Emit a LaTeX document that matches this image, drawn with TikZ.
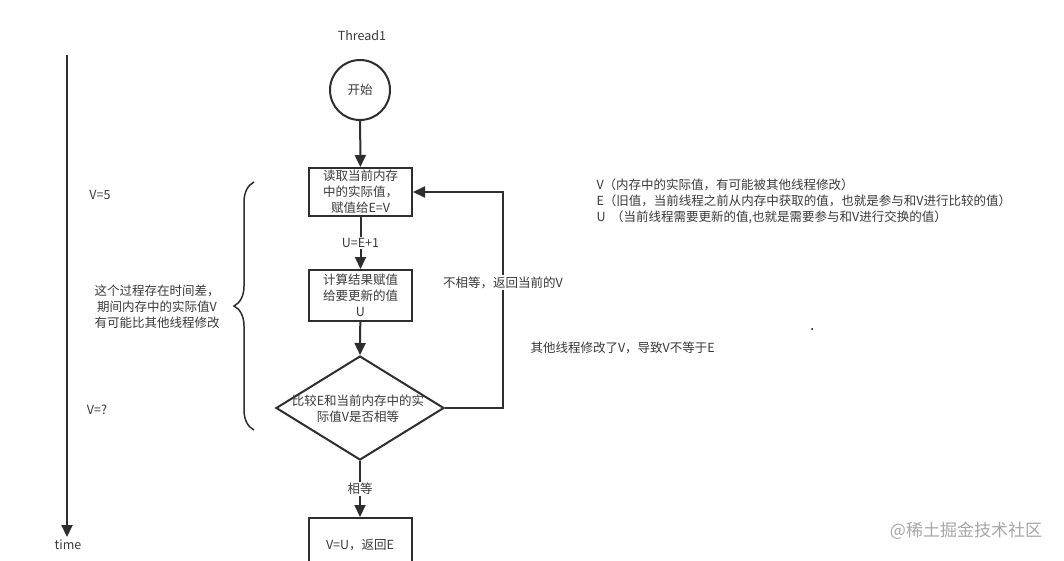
\documentclass[tikz,border=0pt]{standalone}
\usepackage{fontspec}
\setmainfont{Noto Sans CJK SC}
\usetikzlibrary{arrows.meta,shapes.geometric,decorations.pathreplacing}
\definecolor{ink}{HTML}{2E2E2E}
\definecolor{txt}{HTML}{3A3A3A}
\begin{document}
\begin{tikzpicture}[x=1pt,y=-1pt,
  every node/.style={text=txt,font=\fontsize{12.5}{16}\selectfont},
  ln/.style={draw=ink,line width=2pt},
  arr/.style={ln,-{Triangle[length=12pt,width=11pt]}},
  procbox/.style={draw=ink,line width=2pt,minimum width=103pt,minimum height=48pt,align=center,inner sep=1pt},
  lbl/.style={fill=white,inner sep=1.5pt}]
\useasboundingbox[fill=white] (0,0) rectangle (1064,560);
% time axis
\coordinate (t0) at (67,55);
\coordinate (t1) at (67,537);
\draw[arr] (t0) -- (t1);
\node (time) at (68,545) {time};
\node (thr) at (362,36) {Thread1};
% flowchart
\node[draw=ink,line width=2pt,circle,minimum size=60pt,inner sep=0pt] (start) at (360,90) {开始};
\node[procbox] (b1) at (360.5,192) {读取当前内存\\中的实际值，\\赋值给E=V};
\node[procbox,minimum height=51pt] (b2) at (360.5,295.5) {计算结果赋值\\给要更新的值\\U};
\node[draw=ink,line width=2pt,diamond,aspect=1.62,minimum width=168pt,minimum height=104pt,inner sep=0pt] (dia) at (360,408) {};
\node[align=center] (diat) at (358,409) {比较E和当前内存中的实\\际值V是否相等};
\node[procbox,minimum height=60pt,anchor=north] (b3) at (360,517) {};
\node (b3t) at (360,545) {V=U，返回E};
\draw[arr] (start) -- (b1);
\draw[arr] (b1) -- node[lbl] {U=E+1} (b2);
\draw[arr] (b2) -- (dia.north);
\draw[arr] (dia.south) -- node[lbl,pos=0.5] {相等} (b3.north);
\coordinate (c1) at (503,408);
\coordinate (c2) at (503,192);
\draw[arr] (dia.east) -- (c1) -- node[lbl,pos=0.58] {不相等，返回当前的V} (c2) -- (b1.east);
% brace and notes
\coordinate (br0) at (254,430);
\coordinate (br1) at (254,182);
\draw[ink,line width=1.5pt,decorate,decoration={brace,amplitude=20pt}] (br0) -- (br1);
\node (v5) at (100,195) {V=5};
\node (vq) at (97,410) {V=?};
\node[align=center] (gap) at (157,307) {这个过程存在时间差，\\期间内存中的实际值V\\有可能比其他线程修改};
\node[align=left,anchor=north west,font=\fontsize{12.5}{16}\selectfont] (legend) at (593,175) {V（内存中的实际值，有可能被其他线程修改）\\E（旧值，当前线程之前从内存中获取的值，也就是参与和V进行比较的值）\\U\ \ （当前线程需要更新的值,也就是需要参与和V进行交换的值）};
\node[anchor=west] (other) at (527,348) {其他线程修改了V，导致V不等于E};
\node[fill=black,circle,inner sep=0pt,minimum size=2pt] (dot) at (812,329) {};
\node[text=black!35,font=\fontsize{17}{20}\selectfont] (wm) at (966,531) {@稀土掘金技术社区};
\end{tikzpicture}
\end{document}
